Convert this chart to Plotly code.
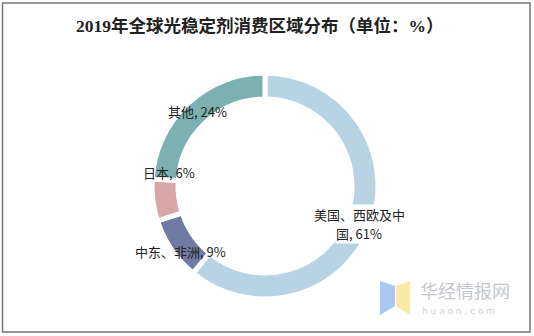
import plotly.graph_objects as go

labels = ["美国、西欧及中国", "中东、非洲", "日本", "其他"]
values = [61, 9, 6, 24]
colors = ["#b8d4e4", "#6f7ba3", "#d6a7a6", "#7cb1b1"]
# data label lines (the first label wraps onto two lines)
label_lines = [["美国、西欧及中", "国, 61%"], ["中东、非洲, 9%"], ["日本, 6%"], ["其他, 24%"]]
label_pos = [[(359, 215), (359, 233)], [(180, 251)], [(169, 173)], [(197, 112)]]
label_bg = ["white", "rgba(0,0,0,0)", "rgba(0,0,0,0)", "rgba(0,0,0,0)"]

W, H = 534, 336
cx, cy, r = 265, 186, 113

fig = go.Figure(go.Pie(
    labels=labels, values=values, sort=False, direction="clockwise", rotation=0,
    hole=0.77, marker=dict(colors=colors, line=dict(color="white", width=5)),
    textinfo="none", hoverinfo="label+percent", showlegend=False,
    domain=dict(x=[(cx - r) / W, (cx + r) / W], y=[(H - cy - r) / H, (H - cy + r) / H]),
))

ann = []
for lines, poss, bg in zip(label_lines, label_pos, label_bg):
    for t, (x, y) in zip(lines, poss):
        ann.append(dict(text=t, x=x / W, y=1 - y / H, xref="paper", yref="paper",
                        xanchor="center", yanchor="middle", bgcolor=bg, borderpad=0,
                        showarrow=False, font=dict(size=13, color="#222", family="Noto Sans CJK SC")))
ann.append(dict(text="<b>2019年全球光稳定剂消费区域分布（单位：%）</b>", x=260 / W, y=1 - 26 / H,
                xref="paper", yref="paper", xanchor="center", yanchor="middle", showarrow=False,
                font=dict(size=17.5, color="#222", family="Liberation Serif, Noto Sans CJK SC")))
ann.append(dict(text="华经情报网", x=418 / W, y=1 - 290 / H, xref="paper", yref="paper",
                xanchor="left", yanchor="middle", showarrow=False,
                font=dict(size=18, color="#c4c8cc", family="Noto Sans CJK SC")))
ann.append(dict(text="h u a o n . c o m", x=420 / W, y=1 - 311 / H, xref="paper", yref="paper",
                xanchor="left", yanchor="middle", showarrow=False,
                font=dict(size=9, color="#cdd0d4", family="DejaVu Sans")))

shapes = [
    dict(type="rect", xref="paper", yref="paper", x0=2.5 / W, x1=530 / W, y0=1 - 332 / H, y1=1 - 3 / H,
         line=dict(color="#777", width=1.5)),
    dict(type="path", xref="paper", yref="paper",
         path=f"M {380/W} {1-281/H} L {395/W} {1-286/H} L {395/W} {1-306/H} L {380/W} {1-315/H} Z",
         fillcolor="#a8c8f0", line=dict(width=0)),
    dict(type="path", xref="paper", yref="paper",
         path=f"M {396/W} {1-286/H} L {410/W} {1-281/H} L {410/W} {1-315/H} L {396/W} {1-306/H} Z",
         fillcolor="#fbe9a6", line=dict(width=0)),
]

fig.update_layout(width=W, height=H, margin=dict(l=0, r=0, t=0, b=0),
                  paper_bgcolor="white", plot_bgcolor="white",
                  annotations=ann, shapes=shapes)
fig.write_html("out.html")
